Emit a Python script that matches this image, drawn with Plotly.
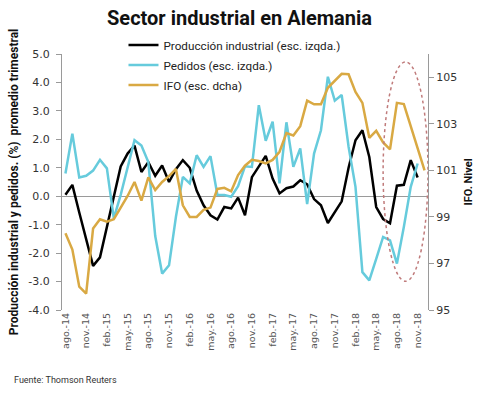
import plotly.graph_objects as go

months = [
    "ago.-14", "sep.-14", "oct.-14", "nov.-14", "dic.-14",
    "ene.-15", "feb.-15", "mar.-15", "abr.-15", "may.-15", "jun.-15",
    "jul.-15", "ago.-15", "sep.-15", "oct.-15", "nov.-15", "dic.-15",
    "ene.-16", "feb.-16", "mar.-16", "abr.-16", "may.-16", "jun.-16",
    "jul.-16", "ago.-16", "sep.-16", "oct.-16", "nov.-16", "dic.-16",
    "ene.-17", "feb.-17", "mar.-17", "abr.-17", "may.-17", "jun.-17",
    "jul.-17", "ago.-17", "sep.-17", "oct.-17", "nov.-17", "dic.-17",
    "ene.-18", "feb.-18", "mar.-18", "abr.-18", "may.-18", "jun.-18",
    "jul.-18", "ago.-18", "sep.-18", "oct.-18", "nov.-18", "dic.-18",
]

tick_labels = [
    "ago.-14", "nov.-14", "feb.-15", "may.-15", "ago.-15", "nov.-15",
    "feb.-16", "may.-16", "ago.-16", "nov.-16", "feb.-17", "may.-17",
    "ago.-17", "nov.-17", "feb.-18", "may.-18", "ago.-18", "nov.-18",
]

produccion = [
    0.05, 0.40, -0.57, -1.55, -2.45, -2.15, -1.08, 0.00, 1.05, 1.50, 1.78,
    0.85, 1.20, 0.72, 1.08, 0.50, 0.95, 1.27, 1.00, 0.20, -0.32, -0.67,
    -0.82, -0.38, -0.43, -0.05, -0.67, 0.67, 1.03, 1.42, 0.62, 0.10, 0.28,
    0.34, 0.56, 0.42, -0.10, -0.32, -0.94, -0.58, -0.18, 1.00, 1.97, 2.32,
    1.38, -0.38, -0.80, -0.95, 0.37, 0.40, 1.27, 0.66,
]

pedidos = [
    0.80, 2.20, 0.66, 0.72, 0.90, 1.28, 0.98, -0.78, 0.05, 1.00, 1.97,
    1.78, 1.20, -1.40, -2.72, -2.43, -0.72, 0.68, 0.45, 1.44, 1.03, 1.41,
    0.05, 0.04, -0.02, 0.35, 1.05, 1.03, 3.20, 1.95, 2.62, 0.45, 2.60,
    1.03, 1.68, -0.28, 1.50, 2.32, 4.20, 3.36, 3.56, 1.74, 0.33, -2.67,
    -2.96, -2.20, -1.43, -1.55, -2.37, -1.08, 0.33, 1.15,
]

ifo = [
    98.3, 97.6, 96.0, 95.7, 98.5, 98.9, 98.8, 98.9, 99.4, 99.9, 100.5,
    99.7, 100.7, 100.15, 100.5, 100.75, 101.06, 99.5, 99.0, 99.0, 99.3,
    99.4, 100.2, 100.25, 100.1, 100.8, 101.2, 101.45, 101.4, 101.3, 101.45,
    101.8, 102.6, 102.5, 102.9, 104.0, 103.84, 103.84, 104.55, 104.85,
    105.15, 105.13, 104.37, 103.9, 102.4, 102.7, 102.2, 101.9, 103.9,
    103.85, 102.9, 101.9, 101.0,
]

left_ticks = [-4, -3, -2, -1, 0, 1, 2, 3, 4, 5]
left_ticklabels = ["-4.0", "-3.0", "-2.0", "-1.0", "0.0", "1.0", "2.0", "3.0", "4.0", "5.0"]
right_ticks = [95, 97, 99, 101, 103, 105]

BLACK = "#000000"
CYAN = "#66cbdc"
GOLD = "#d9a943"
AXIS = "#9a9a9a"
TXT = "Roboto"
TICK = "DejaVu Sans"

fig = go.Figure()
fig.add_trace(go.Scatter(
    x=months[:len(produccion)], y=produccion, mode="lines",
    name="Producción industrial (esc. izqda.)",
    line=dict(color=BLACK, width=2.5), legendgroup="a"))
fig.add_trace(go.Scatter(
    x=months[:len(pedidos)], y=pedidos, mode="lines",
    name="Pedidos (esc. izqda.)",
    line=dict(color=CYAN, width=2.5), legendgroup="b"))
fig.add_trace(go.Scatter(
    x=months[:len(ifo)], y=ifo, mode="lines", yaxis="y2",
    name="IFO (esc. dcha)",
    line=dict(color=GOLD, width=2.5), legendgroup="c"))

fig.update_layout(
    width=479, height=397,
    margin=dict(l=62, r=51, t=54, b=87),
    paper_bgcolor="white", plot_bgcolor="white",
    title=dict(text="<b>Sector industrial en Alemania</b>", x=0.5, xref="container",
               xanchor="center", y=1 - 18 / 397, yanchor="middle",
               font=dict(family=TXT, size=20, color="#111")),
    legend=dict(x=0.168, y=1.092, xanchor="left", yanchor="top",
                bgcolor="rgba(0,0,0,0)", font=dict(family=TXT, size=11.7, color="#222"),
                itemwidth=30, tracegroupgap=1),
    xaxis=dict(type="category", categoryorder="array", categoryarray=months,
               range=[-0.5, len(months) - 0.5],
               tickmode="array", tickvals=tick_labels, ticktext=tick_labels,
               tickangle=-90, tickfont=dict(family=TICK, size=9.5, color="#555"),
               showline=False, showgrid=False, zeroline=False, ticks=""),
    xaxis2=dict(overlaying="x", anchor="free", position=4 / 9, side="bottom",
                range=[-0.5, len(months) - 0.5],
                tickmode="array", tickvals=[i + 2.5 for i in range(0, len(months) - 2, 3)],
                ticks="outside", ticklen=3, tickcolor=AXIS, showticklabels=False,
                showgrid=False, zeroline=False, showline=False),
    yaxis=dict(range=[-4, 5], tickmode="array", tickvals=left_ticks, ticktext=left_ticklabels,
               showline=True, linecolor=AXIS, linewidth=1, ticks="outside", ticklen=5,
               tickcolor=AXIS, showgrid=False, zeroline=True, zerolinecolor=AXIS,
               zerolinewidth=1, ticklabelstandoff=4,
               tickfont=dict(family=TICK, size=11, color="#333"),
               title=dict(text="<b>Producción industrial y pedidos. (%)  promedio trimestral</b>",
                          font=dict(family=TXT, size=12, color="#111"), standoff=7),
               automargin=False),
    yaxis2=dict(overlaying="y", side="right", range=[95, 106], tickmode="array",
                tickvals=right_ticks, showline=True, linecolor=AXIS, linewidth=1,
                ticks="outside", ticklen=5, tickcolor=AXIS, showgrid=False, zeroline=False,
                tickfont=dict(family=TICK, size=11, color="#333"),
                title=dict(text="<b>IFO. Nivel</b>", font=dict(family=TXT, size=11, color="#111"),
                           standoff=8),
                automargin=False),
    shapes=[dict(type="circle", xref="x", yref="y", x0=46.0, x1=52.5, y0=-2.99, y1=4.72,
                 line=dict(color="#c07b7b", width=1.5, dash="dot"))],
    annotations=[dict(text="Fuente: Thomson Reuters", xref="paper", yref="paper",
                      x=-0.137, y=-0.273, xanchor="left", yanchor="middle", showarrow=False,
                      font=dict(family=TXT, size=9, color="#333"))],
)

fig.write_html("out.html", config={"displayModeBar": False},
               post_script="document.body.style.margin='0px';")
